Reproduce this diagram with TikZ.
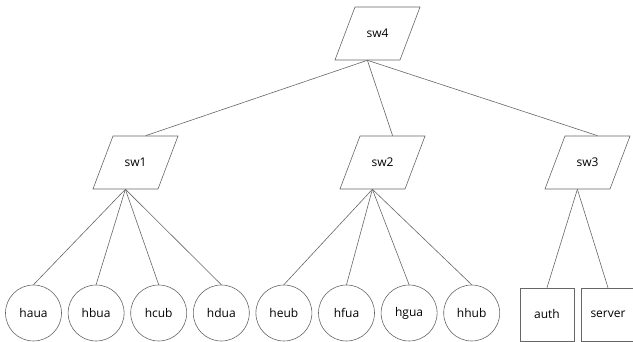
\documentclass[tikz,border=0pt]{standalone}
\usepackage{fontspec}
\setmainfont{Open Sans}
\usetikzlibrary{positioning,shapes.geometric}

\begin{document}
\begin{tikzpicture}[
  x=1pt, y=-1pt,
  node distance=62.6pt,
  every node/.style={draw=black!60, line width=0.6pt, inner sep=1pt, font=\fontsize{12pt}{14pt}\selectfont},
  switch/.style={trapezium, trapezium left angle=69.3, trapezium right angle=110.7,
    text width=25pt, align=center, text height=9pt, text depth=0pt,
    inner xsep=10pt, inner ysep=22pt},
  host/.style={circle, minimum size=56pt},
  hostbox/.style={rectangle, minimum width=54pt, minimum height=53pt},
  wire/.style={draw=black!60, line width=0.6pt}
]
\useasboundingbox (0,0) rectangle (633,342);

% switches
\node[switch] (sw4) at (377.5,33.5) {sw4};
\node[switch] (sw1) at (135.5,162.5) {sw1};
\node[switch] (sw2) at (382.5,162.5) {sw2};
\node[switch] (sw3) at (587.5,162.5) {sw3};

% hosts
\node[host] (haua) at (33.5,313) {haua};
\node[host] (hbua) [right of=haua] {hbua};
\node[host] (hcub) [right of=hbua] {hcub};
\node[host] (hdua) [right of=hcub] {hdua};
\node[host] (heub) [right of=hdua] {heub};
\node[host] (hfua) [right of=heub] {hfua};
\node[host] (hgua) [right of=hfua] {hgua};
\node[host] (hhub) [right of=hgua] {hhub};
\node[hostbox] (auth) at (547,314.5) {auth};
\node[hostbox, node distance=61pt] (server) [right of=auth] {server};

\draw[wire] (sw4.bottom side) -- (sw1.top side);
\draw[wire] (sw4.bottom side) -- (sw2.top side);
\draw[wire] (sw4.bottom side) -- (sw3.top side);

\draw[wire] (sw1.bottom side) -- (haua.north);
\draw[wire] (sw1.bottom side) -- (hbua.north);
\draw[wire] (sw1.bottom side) -- (hcub.north);
\draw[wire] (sw1.bottom side) -- (hdua.north);

\draw[wire] (sw2.bottom side) -- (heub.north);
\draw[wire] (sw2.bottom side) -- (hfua.north);
\draw[wire] (sw2.bottom side) -- (hgua.north);
\draw[wire] (sw2.bottom side) -- (hhub.north);

\draw[wire] (sw3.bottom side) -- (auth.north);
\draw[wire] (sw3.bottom side) -- (server.north);

% auth and server hang off sw3 only
\end{tikzpicture}
\end{document}
